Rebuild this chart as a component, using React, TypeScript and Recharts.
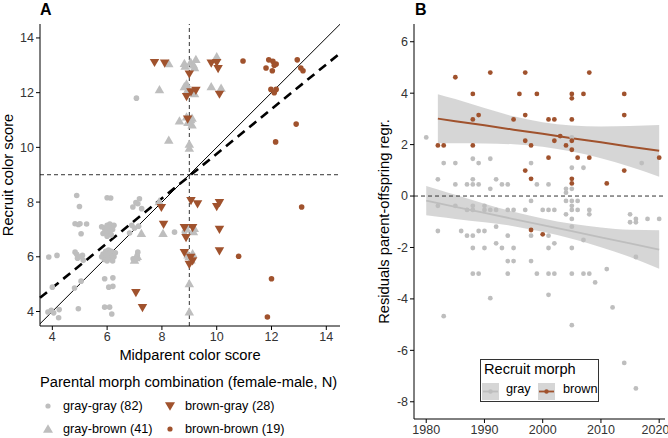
import React from "react";
import {
  ScatterChart,
  ComposedChart,
  Scatter,
  Line,
  Area,
  XAxis,
  YAxis,
  ReferenceLine,
} from "recharts";

const FONT = "'Liberation Sans', Arial, Helvetica, sans-serif";
const GRAY = "#bebebe";
const BROWN = "#a0522d";
const TICK = { fill: "#333", fontSize: 12.5, fontFamily: FONT };

// ---- Panel A: midparent vs recruit colour score ----
const grayGray: [number, number][] = [
  [4.89, 8.24], [4.99, 7.84], [6.0, 8.16], [6.13, 8.15], [7.18, 8.12], [7.12, 7.94],
  [6.94, 7.82], [7.26, 7.76], [7.05, 7.98], [4.83, 7.21], [5.01, 7.21], [5.25, 7.2],
  [5.05, 6.84], [5.9, 7.05], [6.0, 7.15], [6.1, 7.2], [6.2, 7.0], [5.85, 6.85],
  [6.05, 6.9], [6.15, 6.8], [5.95, 6.95], [6.25, 7.15], [6.0, 6.75], [6.1, 7.05],
  [5.8, 7.1], [6.9, 7.15], [7.15, 7.12], [6.82, 6.87], [3.87, 5.99], [4.17, 6.05],
  [4.83, 6.17], [4.89, 6.09], [5.13, 5.87], [5.0, 6.0], [4.92, 5.95], [5.85, 6.1],
  [5.95, 6.2], [6.05, 6.25], [6.15, 6.1], [6.25, 6.0], [5.9, 5.9], [6.0, 5.85],
  [6.1, 5.95], [6.2, 5.85], [5.8, 6.0], [6.05, 6.05], [6.3, 6.15], [5.95, 6.0],
  [6.15, 6.2], [7.12, 6.17], [6.95, 5.93], [7.1, 6.05], [4.0, 4.89], [4.81, 4.86],
  [5.05, 5.11], [5.91, 5.2], [6.21, 5.23], [6.06, 4.89], [6.21, 4.92], [3.84, 3.98],
  [3.96, 4.04], [4.25, 4.07], [4.23, 3.77], [4.95, 4.1], [5.91, 4.16], [6.09, 4.16],
  [6.17, 3.91], [4.05, 3.95], [7.07, 11.8], [8.46, 6.9], [8.82, 6.9], [8.9, 7.05],
  [6.05, 7.1], [5.92, 6.92], [6.12, 6.95], [6.08, 6.15], [5.98, 6.08], [6.18, 5.98],
  [4.95, 7.18], [5.1, 6.05], [6.02, 5.92], [7.0, 7.05],
];

const grayBrown: [number, number][] = [
  [8.25, 13.04], [8.82, 13.05], [9.24, 13.2], [9.19, 12.9], [10.0, 13.3], [9.05, 13.1],
  [7.91, 12.09], [8.82, 12.2], [9.0, 12.05], [9.19, 11.95], [9.8, 12.2], [10.16, 12.15],
  [8.9, 12.3], [9.1, 12.0], [8.64, 10.95], [8.9, 11.1], [9.1, 11.05], [9.1, 10.8],
  [8.95, 10.9], [9.05, 11.0], [8.25, 10.25], [9.0, 10.1], [9.0, 9.95], [7.9, 8.0],
  [7.25, 6.84], [8.04, 6.84], [7.0, 5.86], [7.1, 6.0], [7.05, 5.95], [9.0, 5.0],
  [9.0, 3.97], [9.12, 6.1], [9.06, 5.87], [9.18, 7.02], [8.9, 7.0], [9.0, 6.0],
  [8.95, 6.05], [9.15, 6.9], [8.85, 12.95], [9.15, 13.0], [8.95, 12.1],
];

const brownGray: [number, number][] = [
  [7.73, 13.12], [8.1, 13.1], [9.0, 12.7], [9.8, 13.1], [10.05, 12.9], [10.0, 13.12],
  [8.9, 11.87], [9.06, 12.05], [9.24, 12.1], [10.1, 11.96], [8.94, 11.05],
  [9.06, 8.07], [9.3, 7.95], [10.0, 7.85], [10.1, 8.0], [7.98, 7.82],
  [8.06, 7.2], [8.82, 7.08], [9.12, 7.08], [8.88, 6.72], [10.1, 7.02],
  [8.82, 6.17], [9.12, 5.87], [9.0, 5.74], [10.1, 6.23], [9.05, 6.0],
  [7.05, 4.71], [7.29, 4.16],
];

const brownBrown: [number, number][] = [
  [10.96, 13.16], [11.9, 13.2], [12.05, 13.15], [12.17, 13.05], [11.8, 12.9], [12.03, 12.8],
  [12.94, 13.2], [13.07, 12.9], [13.15, 12.8], [12.1, 13.0], [11.98, 12.12], [12.17, 12.12],
  [12.9, 10.85], [12.15, 10.2], [13.1, 7.82], [10.8, 6.02], [12.0, 5.2], [11.85, 3.8],
  [12.1, 12.0],
];

const identityEnds: [number, number][] = [[3.55, 3.55], [14.5, 14.5]];
const regressionEnds: [number, number][] = [[3.55, 4.5], [14.45, 13.4]];
const ticksA = [4, 6, 8, 10, 12, 14];

// ---- Panel B: residuals by year ----
const grayRecruits: [number, number][] = [
  [1980, 2.28], [2005, 2.28], [1983, 1.28], [1985, 1.28], [1988, 1.45], [1989, 1.28],
  [1991, 1.45], [1998, 1.28], [2005, 1.1], [2007, 1.1], [2017, 1.28], [1982, 0.65],
  [1985, 0.45], [1987, 0.45], [1988, 0.65], [1988, 0.45], [1989, 0.45], [1991, 0.28],
  [1992, 0.65], [1993, 0.45], [1994, 0.45], [1999, 0.45], [2001, 0.45], [2004, 0.28],
  [2005, 0.28], [2004, 0.13], [1998, -0.19], [2004, -0.19], [2005, -0.19], [2006, -0.19],
  [1982, -0.38], [1985, -0.38], [1988, -0.38], [1990, -0.38], [2005, -0.38],
  [1987, -0.54], [1988, -0.54], [1990, -0.54], [1991, -0.54], [1992, -0.54], [1994, -0.54],
  [1995, -0.54], [1997, -0.54], [2000, -0.54], [2001, -0.54], [2002, -0.54], [2005, -0.54],
  [2006, -0.54], [2008, -0.54], [2004, -0.71], [2008, -0.71], [2015, -0.71], [2005, -0.89],
  [2016, -0.89], [2018, -0.89], [2020, -0.89], [2015, -1.02], [2016, -1.02],
  [1982, -1.36], [1986, -1.36], [1987, -1.54], [1988, -1.54], [1989, -1.36], [1990, -1.36],
  [1992, -1.19], [1994, -1.54], [1998, -1.54], [2001, -1.54], [2002, -1.84], [2005, -1.19],
  [2007, -1.71], [1988, -2.02], [1990, -2.02], [1992, -1.84], [1993, -2.02], [1995, -2.02],
  [2001, -2.02], [2005, -2.02], [1994, -2.53], [1995, -2.53], [1998, -2.53], [2016, -2.37],
  [1988, -3.02], [1989, -3.02], [1994, -3.02], [1999, -3.02], [2001, -3.02], [2002, -3.02],
  [2005, -3.02], [2007, -3.02], [2008, -3.02], [2011, -2.84], [2009, -3.36], [2001, -3.84],
  [1991, -3.97], [1983, -4.67], [2005, -5.02], [2012, -4.33], [2014, -6.49], [2016, -7.48],
];

const brownRecruits: [number, number][] = [
  [1985, 4.62], [1991, 4.8], [1997, 4.8], [2008, 4.8], [1988, 3.97], [1996, 3.97],
  [1999, 3.97], [2005, 3.97], [2005, 3.8], [2007, 3.97], [2014, 3.97], [1989, 3.15],
  [1988, 2.98], [1995, 2.98], [1997, 3.15], [2001, 2.98], [2002, 2.98], [2005, 2.98],
  [2014, 3.15], [1982, 1.97], [1983, 1.97], [1988, 1.97], [1997, 2.15], [1998, 1.97],
  [2002, 2.15], [2003, 2.33], [2004, 1.97], [2005, 2.15], [2005, 1.8], [2001, 1.49],
  [2006, 1.49], [2008, 1.49], [2020, 1.49], [1997, 0.99], [2014, 0.99], [1998, 0.67],
  [2005, 0.67], [2005, 0.49], [2011, 0.49], [1998, -1.32], [2000, -1.49],
];

// fitted trends and their confidence bands
const fitYears = [1980, 1982, 1985, 1990, 1995, 2000, 2005, 2010, 2015, 2020];
const grayFit = [-0.18, -0.275, -0.417, -0.655, -0.893, -1.13, -1.368, -1.605, -1.843, -2.08];
const grayLo = [-0.75, -0.805, -0.89, -1.02, -1.17, -1.39, -1.66, -1.99, -2.37, -2.83];
const grayHi = [0.39, 0.255, 0.05, -0.3, -0.61, -0.87, -1.08, -1.22, -1.31, -1.33];
const brownFit = [null, 3.01, 2.91, 2.75, 2.58, 2.42, 2.25, 2.09, 1.92, 1.76];
const brownLo = [null, 2.05, 2.05, 2.04, 2.01, 1.92, 1.73, 1.47, 1.14, 0.75];
const brownHi = [null, 3.96, 3.77, 3.42, 3.1, 2.87, 2.74, 2.7, 2.72, 2.76];

const ticksBx = [1980, 1990, 2000, 2010, 2020];
const ticksBy = [-8, -6, -4, -2, 0, 2, 4, 6];

const toXY = (pts: [number, number][]) => pts.map(([x, y]) => ({ x, y }));
const toYear = (pts: [number, number][]) => pts.map(([year, res]) => ({ year, res }));

const trendRows = fitYears.map((year, i) => ({
  year,
  grayFit: grayFit[i],
  grayBand: [grayLo[i], grayHi[i]],
  brownFit: brownFit[i],
  brownBand: brownLo[i] == null ? null : [brownLo[i], brownHi[i]],
}));

const triPoints = (cx: number, cy: number, s: number, up: boolean) => {
  const h = s * 0.866;
  const d = up ? 1 : -1;
  return `${cx},${cy - d * h * 0.62} ${cx - s / 2},${cy + d * h * 0.38} ${cx + s / 2},${cy + d * h * 0.38}`;
};

const TriUp = (p: any) => <polygon points={triPoints(p.cx, p.cy, 9.5, true)} fill={GRAY} />;
const TriDown = (p: any) => <polygon points={triPoints(p.cx, p.cy, 9.5, false)} fill={BROWN} />;
const dotShape = (r: number, fill: string) => (p: any) => <circle cx={p.cx} cy={p.cy} r={r} fill={fill} />;

const legendA = [
  { label: "gray-gray (82)", kind: "dot", color: GRAY, col: 0, row: 0 },
  { label: "brown-gray (28)", kind: "down", color: BROWN, col: 1, row: 0 },
  { label: "gray-brown (41)", kind: "up", color: GRAY, col: 0, row: 1 },
  { label: "brown-brown (19)", kind: "dot", color: BROWN, col: 1, row: 1 },
];

function LegendSymbol({ kind, color }: { kind: string; color: string }) {
  return (
    <svg width={14} height={14} style={{ display: "block" }}>
      {kind === "dot" && <circle cx={7} cy={7} r={2.6} fill={color} />}
      {kind === "up" && <polygon points={triPoints(7, 7.5, 10, true)} fill={color} />}
      {kind === "down" && <polygon points={triPoints(7, 6.5, 10, false)} fill={color} />}
    </svg>
  );
}

function MorphKey({ color }: { color: string }) {
  return (
    <svg width={17} height={17} style={{ display: "block" }}>
      <rect x={0} y={0} width={17} height={17} fill="#d6d6d6" />
      <line x1={1} y1={8.5} x2={16} y2={8.5} stroke={color} strokeWidth={1.8} />
      <circle cx={8.5} cy={8.5} r={2.2} fill={color} />
    </svg>
  );
}

const abs = (left: number, top: number): React.CSSProperties => ({ position: "absolute", left, top });

export default function App() {
  return (
    <div style={{ position: "absolute", left: 0, top: 0, width: 668, height: 438, background: "#fff", fontFamily: FONT }}>
      <div style={{ ...abs(40, 1), fontSize: 16, fontWeight: "bold" }}>A</div>
      <div style={{ ...abs(415, 1), fontSize: 16, fontWeight: "bold" }}>B</div>

      <div style={abs(0, 0)}>
        <ScatterChart width={345} height={366} margin={{ top: 24, right: 5, bottom: 0, left: 0 }}>
          <XAxis
            type="number"
            dataKey="x"
            domain={[3.55, 14.5]}
            ticks={ticksA}
            allowDataOverflow
            height={40}
            stroke="#000"
            tickSize={4}
            tick={TICK}
            label={{ value: "Midparent color score", position: "insideBottom", offset: 6, fill: "#000", fontSize: 14.7, fontFamily: FONT }}
          />
          <YAxis
            type="number"
            dataKey="y"
            domain={[3.47, 14.51]}
            ticks={ticksA}
            allowDataOverflow
            width={40}
            stroke="#000"
            tickSize={4}
            tick={TICK}
            label={{ value: "Recruit color score", angle: -90, position: "insideLeft", offset: 8, fill: "#000", fontSize: 14.7, fontFamily: FONT, style: { textAnchor: "middle" } }}
          />
          <Scatter data={toXY(grayGray)} shape={dotShape(2.8, GRAY)} isAnimationActive={false} />
          <Scatter data={toXY(grayBrown)} shape={TriUp} isAnimationActive={false} />
          <Scatter data={toXY(brownGray)} shape={TriDown} isAnimationActive={false} />
          <Scatter data={toXY(brownBrown)} shape={dotShape(2.8, BROWN)} isAnimationActive={false} />
          <ReferenceLine x={9} stroke="#333" strokeDasharray="4 3" />
          <ReferenceLine y={9} stroke="#333" strokeDasharray="4 3" />
          <ReferenceLine
            segment={identityEnds.map(([x, y]) => ({ x, y }))}
            stroke="#000"
            strokeWidth={1}
          />
          <ReferenceLine
            segment={regressionEnds.map(([x, y]) => ({ x, y }))}
            stroke="#000"
            strokeWidth={2.6}
            strokeDasharray="9 6"
          />
        </ScatterChart>
      </div>

      <div style={{ ...abs(40, 374), fontSize: 14.7 }}>Parental morph combination (female-male, N)</div>
      {legendA.map((it) => (
        <div
          key={it.label}
          style={{ ...abs(it.col === 0 ? 41 : 163, it.row === 0 ? 399 : 422), display: "flex", alignItems: "center", fontSize: 12.7 }}
        >
          <LegendSymbol kind={it.kind} color={it.color} />
          <span style={{ marginLeft: 8 }}>{it.label}</span>
        </div>
      ))}

      <div style={abs(340, 0)}>
        <ComposedChart width={328} height={438} data={trendRows} margin={{ top: 24, right: 3, bottom: 0, left: 0 }}>
          <XAxis
            type="number"
            dataKey="year"
            domain={[1977.9, 2021]}
            ticks={ticksBx}
            allowDataOverflow
            height={19}
            stroke="#000"
            tickSize={4}
            tick={TICK}
          />
          <YAxis
            type="number"
            domain={[-8.67, 6.69]}
            ticks={ticksBy}
            allowDataOverflow
            width={74}
            stroke="#000"
            tickSize={4}
            tick={TICK}
            label={{ value: "Residuals parent-offspring regr.", angle: -90, position: "insideLeft", offset: 44, fill: "#000", fontSize: 14.7, fontFamily: FONT, style: { textAnchor: "middle" } }}
          />
          <ReferenceLine y={0} stroke="#333" strokeDasharray="4 3" />
          <Scatter data={toYear(grayRecruits)} dataKey="res" shape={dotShape(2.4, GRAY)} isAnimationActive={false} />
          <Scatter data={toYear(brownRecruits)} dataKey="res" shape={dotShape(2.4, BROWN)} isAnimationActive={false} />
          <Area dataKey="grayBand" type="monotone" stroke="none" fill="#999" fillOpacity={0.4} isAnimationActive={false} />
          <Area dataKey="brownBand" type="monotone" stroke="none" fill="#999" fillOpacity={0.4} isAnimationActive={false} />
          <Line dataKey="grayFit" type="linear" stroke={GRAY} strokeWidth={1.8} dot={false} isAnimationActive={false} />
          <Line dataKey="brownFit" type="linear" stroke={BROWN} strokeWidth={2} dot={false} isAnimationActive={false} />
        </ComposedChart>
      </div>

      <div style={{ ...abs(480, 359), width: 117, height: 41, border: "1px solid #333", background: "#fff" }}>
        <div style={{ ...abs(3, 1), fontSize: 14.6, whiteSpace: "nowrap" }}>Recruit morph</div>
        <div style={abs(1, 23)}><MorphKey color={GRAY} /></div>
        <div style={{ ...abs(25, 22), fontSize: 12.7 }}>gray</div>
        <div style={abs(57, 23)}><MorphKey color={BROWN} /></div>
        <div style={{ ...abs(82, 22), fontSize: 12.7 }}>brown</div>
      </div>
    </div>
  );
}
